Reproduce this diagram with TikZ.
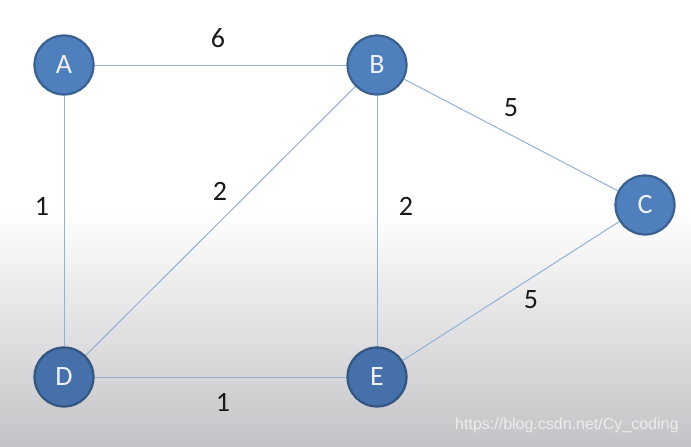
\documentclass[tikz,border=0pt]{standalone}
\usepackage{fontspec}
\setmainfont{Carlito}
\newfontfamily\wmfont{Liberation Sans}
\definecolor{nodefill}{HTML}{4F7FBC}
\definecolor{nodefilllow}{HTML}{4670AA}
\definecolor{nodeborder}{HTML}{3A6090}
\definecolor{nodeborderlow}{HTML}{33557F}
\definecolor{edgecol}{HTML}{92B1D6}
\definecolor{bggrey}{HTML}{C4C4C8}
\begin{document}
\begin{tikzpicture}[x=1pt,y=-1pt,
  vert/.style={circle,fill=nodefill,draw=nodeborder,line width=2.2pt,minimum size=59pt,inner sep=0pt,text=white!90!nodefill,font=\fontsize{28}{28}\selectfont},
  vertlow/.style={vert,fill=nodefilllow,draw=nodeborderlow},
  edge/.style={draw=edgecol,line width=1pt},
  wlabel/.style={font=\fontsize{28}{28}\selectfont,text=black!90}]
\useasboundingbox (0,0) rectangle (691,447);
\fill[white] (0,0) rectangle (691,447);
\shade[top color=white,bottom color=bggrey] (0,210) rectangle (691,447);
\node[vert] (A) at (64,65) {A};
\node[vert] (B) at (377,65) {B};
\node[vert] (C) at (645,205) {C};
\node[vertlow] (D) at (64,377) {D};
\node[vertlow] (E) at (377,377) {E};
\path[edge] (A) -- (B);
\path[edge] (A) -- (D);
\path[edge] (B) -- (D);
\path[edge] (B) -- (E);
\path[edge] (B) -- (C);
\path[edge] (C) -- (E);
\path[edge] (D) -- (E);
\node[wlabel] (l1) at (218,38) {6};
\node[wlabel] (l2) at (42,206) {1};
\node[wlabel] (l3) at (220,191) {2};
\node[wlabel] (l4) at (406,206) {2};
\node[wlabel] (l5) at (511,108) {5};
\node[wlabel] (l6) at (531,300) {5};
\node[wlabel] (l7) at (223,402) {1};
\node[font=\wmfont\fontsize{16}{16}\selectfont,text=white!85!gray,anchor=east] (wm) at (682,425) {https://blog.csdn.net/Cy\_coding};
\end{tikzpicture}
\end{document}
